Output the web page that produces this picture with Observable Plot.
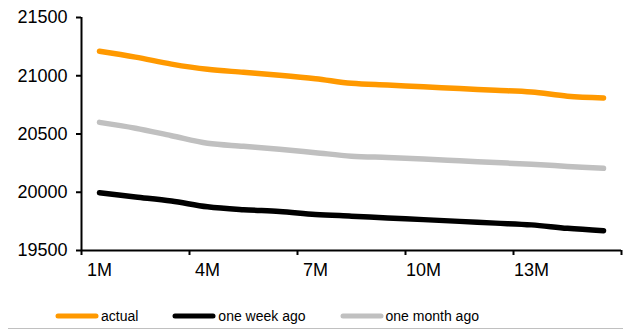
<!DOCTYPE html>
<html>
<head>
<meta charset="utf-8">
<script src="https://cdn.jsdelivr.net/npm/d3@7"></script>
<script src="https://cdn.jsdelivr.net/npm/@observablehq/plot@0.6"></script>
<style>
  html, body { margin: 0; padding: 0; background: #fff; }
  body { width: 623px; height: 329px; overflow: hidden; font-family: "Liberation Sans", Arial, sans-serif; }
  #chart svg { display: block; }
  .legend {
    box-sizing: border-box;
    height: 39px;
    margin-left: 8px;
    padding-left: 47px;
    padding-top: 14px;
    border-bottom: 1px solid #c0c0c0;
    display: flex;
    gap: 34px;
    font-size: 14px;
    line-height: 18px;
    color: #000;
  }
  .legend .item { display: flex; align-items: center; }
  .legend svg { margin-right: 2px; }
</style>
</head>
<body>
<div id="chart"></div>
<div class="legend" id="legend"></div>
<script>
// Forward curve by tenor
const tenors = ["1M", "2M", "3M", "4M", "5M", "6M", "7M", "8M", "9M", "10M", "11M", "12M", "13M", "14M", "15M"];
const actual = [21210, 21160, 21100, 21055, 21030, 21005, 20975, 20935, 20920, 20905, 20890, 20875, 20860, 20825, 20810];
const oneWeekAgo = [19995, 19960, 19925, 19875, 19850, 19835, 19810, 19795, 19780, 19765, 19750, 19735, 19720, 19690, 19670];
const oneMonthAgo = [20600, 20550, 20485, 20420, 20395, 20370, 20340, 20310, 20298, 20285, 20270, 20255, 20240, 20222, 20205];

const seriesNames = ["actual", "one week ago", "one month ago"];
const seriesColors = ["#ff9900", "#000000", "#c0c0c0"];

const yTicks = [19500, 20000, 20500, 21000, 21500];
const labelledTenors = ["1M", "4M", "7M", "10M", "13M"];

// Long-format rows: position along the curve is the tenor's index (1-based)
const rows = [actual, oneWeekAgo, oneMonthAgo].flatMap((vals, s) =>
  vals.map((v, i) => ({ series: seriesNames[s], pos: i + 1, tenor: tenors[i], value: v }))
);

// Category boundaries for the tick marks, one every three tenors
const boundaries = d3.range(0, tenors.length + 1, 3).map(k => k + 0.5);
const labelPositions = labelledTenors.map(t => tenors.indexOf(t) + 1);

const chart = Plot.plot({
  width: 623,
  height: 290,
  marginLeft: 81,
  marginRight: 2,
  marginTop: 17,
  marginBottom: 40,
  style: { fontFamily: "'Liberation Sans', Arial, sans-serif", fontSize: "18px", color: "#000", background: "#fff" },
  x: { type: "linear", domain: [0.5, tenors.length + 0.5] },
  y: { domain: [19500, 21500] },
  color: { domain: seriesNames, range: seriesColors },
  marks: [
    Plot.axisY({ ticks: yTicks, tickSize: 5, tickPadding: 9, tickFormat: d => String(d), label: null, strokeWidth: 2 }),
    Plot.axisX({ ticks: boundaries, tickSize: 5, tickFormat: () => "", label: null, strokeWidth: 2 }),
    Plot.axisX({ ticks: labelPositions, tickSize: 0, tickPadding: 13, tickFormat: i => tenors[i - 1], label: null }),
    Plot.ruleX([0.5], { stroke: "#000", strokeWidth: 2 }),
    Plot.ruleY([19500], { stroke: "#000", strokeWidth: 2 }),
    Plot.line(rows, {
      x: "pos",
      y: "value",
      z: "series",
      stroke: "series",
      strokeWidth: 5.5,
      strokeLinecap: "round",
      strokeLinejoin: "round",
      curve: "catmull-rom"
    })
  ]
});
document.getElementById("chart").append(chart);

// Legend below the plot
const legend = d3.select("#legend");
seriesNames.forEach((name, i) => {
  const item = legend.append("div").attr("class", "item");
  const sw = item.append("svg").attr("width", 44).attr("height", 10);
  sw.append("line")
    .attr("x1", 3).attr("x2", 41).attr("y1", 5).attr("y2", 5)
    .attr("stroke", seriesColors[i]).attr("stroke-width", 5).attr("stroke-linecap", "round");
  item.append("span").text(name);
});
</script>
</body>
</html>
